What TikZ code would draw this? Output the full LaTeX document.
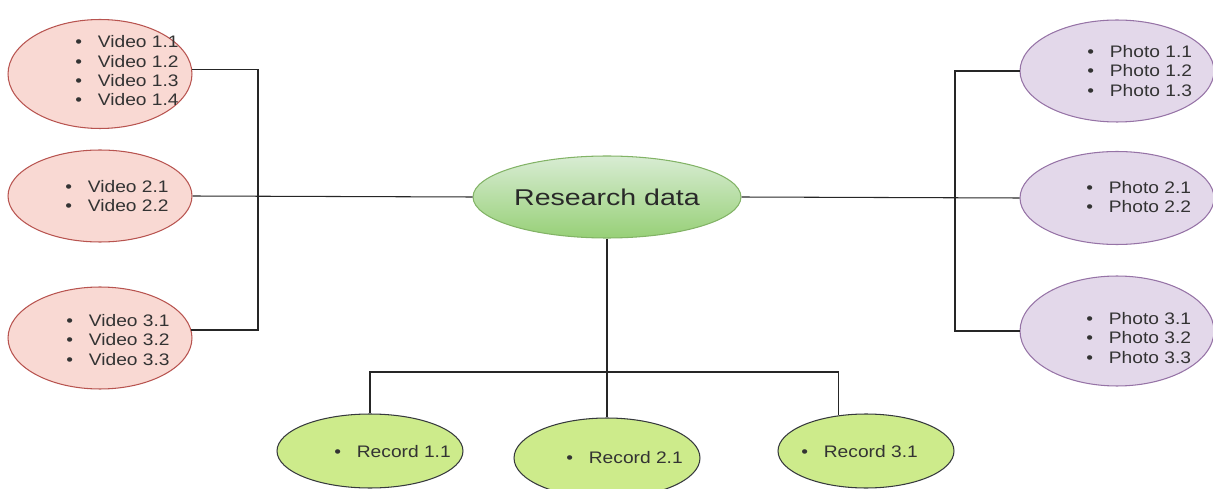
\documentclass[tikz,border=0pt]{standalone}
\usepackage{fontspec}
\setmainfont{Liberation Sans}[FakeStretch=1.15]
\newfontfamily\bigfont{Liberation Sans}[FakeStretch=1.25]
\usetikzlibrary{shapes.geometric}
\definecolor{vidfill}{HTML}{F9D9D3}
\definecolor{viddraw}{HTML}{B85450}
\definecolor{phofill}{HTML}{E3D8EA}
\definecolor{phodraw}{HTML}{9673A6}
\definecolor{recfill}{HTML}{CDEB8B}
\definecolor{recdraw}{HTML}{36393D}
\definecolor{restop}{HTML}{D8ECD3}
\definecolor{resbot}{HTML}{97D077}
\definecolor{resdraw}{HTML}{82B366}
\definecolor{ink}{HTML}{333333}
\newcommand\itm{\textbullet\hspace{9pt}}
\tikzset{
  oval/.style={ellipse,inner sep=0pt,line width=0.6pt},
  video/.style={oval,fill=vidfill,draw=viddraw,minimum width=3.68cm},
  photo/.style={oval,fill=phofill,draw=phodraw,minimum width=3.88cm},
  record/.style={oval,fill=recfill,draw=recdraw,minimum width=3.72cm},
  txt/.style={anchor=west,inner sep=0pt,align=left,text=ink,font=\fontsize{9.5}{11}\selectfont},
  wire/.style={line width=0.6pt,draw=black!85}
}
\begin{document}
\begin{tikzpicture}[x=0.02cm,y=-0.02cm]
\useasboundingbox (0,0) rectangle (1213,489);

% left side
\node[video,minimum height=2.18cm] (v1) at (100,74) {};
\node[video,minimum height=1.84cm] (v2) at (100,196) {};
\node[video,minimum height=2.04cm] (v3) at (100,338) {};
\node[txt] (tv1) at (75,71) {\itm Video 1.1\\\itm Video 1.2\\\itm Video 1.3\\\itm Video 1.4};
\node[txt] (tv2) at (65,196) {\itm Video 2.1\\\itm Video 2.2};
\node[txt] (tv3) at (66,340) {\itm Video 3.1\\\itm Video 3.2\\\itm Video 3.3};

% right side
\node[photo,minimum height=2.04cm] (p1) at (1117,71) {};
\node[photo,minimum height=1.86cm] (p2) at (1117,198) {};
\node[photo,minimum height=2.2cm] (p3) at (1117,331) {};
\node[txt] (tp1) at (1087,71) {\itm Photo 1.1\\\itm Photo 1.2\\\itm Photo 1.3};
\node[txt] (tp2) at (1086,197) {\itm Photo 2.1\\\itm Photo 2.2};
\node[txt] (tp3) at (1086,338) {\itm Photo 3.1\\\itm Photo 3.2\\\itm Photo 3.3};

% centre
\node[oval,top color=restop,bottom color=resbot,draw=resdraw,text=ink!80!black,
  minimum width=5.36cm,minimum height=1.64cm,font=\bigfont\fontsize{13}{15}\selectfont]
  (rd) at (607,197) {Research data};

% bottom
\node[record,minimum height=1.48cm] (r1) at (370,451) {};
\node[record,minimum height=1.6cm] (r2) at (607,458) {};
\node[record,minimum height=1.48cm,minimum width=3.52cm] (r3) at (866,451) {};
\node[txt] (tr1) at (334,452) {\itm Record 1.1};
\node[txt] (tr2) at (566,458) {\itm Record 2.1};
\node[txt] (tr3) at (801,452) {\itm Record 3.1};

% connectors
\coordinate (lbus) at (258,0);
\coordinate (rbus) at (955,0);
\coordinate (bbus) at (0,372);
\draw[wire] (v1.3) -- (v1.3 -| lbus) -- (v3.5 -| lbus) -- (v3.5);
\draw[wire] (v2.east) -- (rd.west);
\draw[wire] (p1.west) -- (p1.west -| rbus) -- (p3.west -| rbus) -- (p3.west);
\draw[wire] (rd.east) -- (p2.west);
\draw[wire] (rd.south) -- (r2.north);
\draw[wire] (r1.north) -- (r1.north |- bbus) -- (r3.128 |- bbus) -- (r3.128);

\end{tikzpicture}
\end{document}
